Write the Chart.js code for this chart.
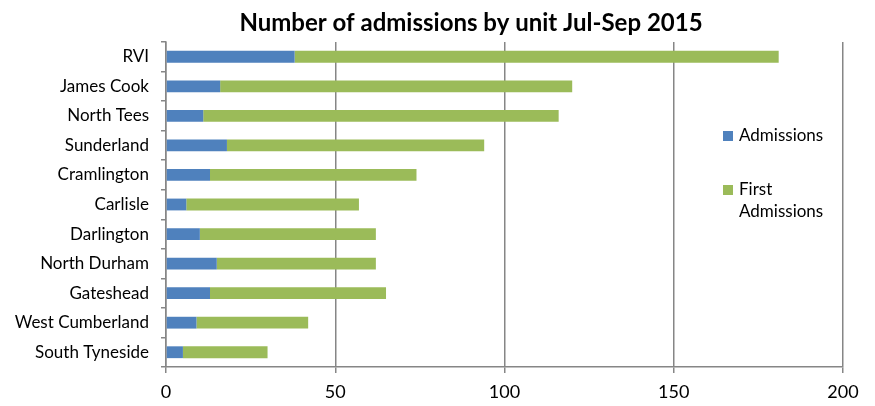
<!DOCTYPE html>
<html>
<head>
<meta charset="utf-8">
<script src="https://cdn.jsdelivr.net/npm/chart.js@4"></script>
<style>
  html, body { margin: 0; padding: 0; background: #fff; }
  #wrap { width: 875px; height: 406px; position: relative; }
</style>
</head>
<body>
<div id="wrap"><canvas id="chart"></canvas></div>
<script>
// Data
const units = ["RVI", "James Cook", "North Tees", "Sunderland", "Cramlington", "Carlisle",
  "Darlington", "North Durham", "Gateshead", "West Cumberland", "South Tyneside"];
const admissions = [38, 16, 11, 18, 13, 6, 10, 15, 13, 9, 5];
const firstAdmissions = [143, 104, 105, 76, 61, 51, 52, 47, 52, 33, 25];
const seriesNames = ["Admissions", ["First", "Admissions"]];
const seriesColors = ["#4F81BD", "#9BBB59"];
const xTicks = [0, 50, 100, 150, 200];
const chartTitle = "Number of admissions by unit Jul-Sep 2015";

const FONT = "Lato, 'Open Sans', sans-serif";

// Title and legend drawn on the canvas (title sits off-centre, second legend label wraps)
const decorations = {
  id: "decorations",
  afterDraw(chart) {
    const ctx = chart.ctx;
    ctx.save();
    ctx.fillStyle = "#000";
    ctx.font = "bold 24px " + FONT;
    ctx.textAlign = "center";
    ctx.textBaseline = "middle";
    ctx.fillText(chartTitle, 471, 23);

    ctx.font = "17px " + FONT;
    ctx.textAlign = "left";
    const rows = [[136], [190, 212]];
    seriesNames.forEach((name, i) => {
      const lines = Array.isArray(name) ? name : [name];
      ctx.fillStyle = seriesColors[i];
      ctx.fillRect(723, rows[i][0] - 5, 10, 10);
      ctx.fillStyle = "#000";
      lines.forEach((ln, j) => ctx.fillText(ln, 739, rows[i][j]));
    });
    ctx.restore();
  }
};

new Chart(document.getElementById("chart"), {
  type: "bar",
  data: {
    labels: units,
    datasets: [
      { label: "Admissions", data: admissions, backgroundColor: seriesColors[0] },
      { label: "First Admissions", data: firstAdmissions, backgroundColor: seriesColors[1] }
    ]
  },
  options: {
    indexAxis: "y",
    responsive: true,
    maintainAspectRatio: false,
    animation: false,
    categoryPercentage: 0.4,
    barPercentage: 1.0,
    layout: { padding: { left: 0, right: 32, top: 42, bottom: 0 } },
    plugins: {
      legend: { display: false },
      tooltip: { enabled: false },
      title: { display: false }
    },
    scales: {
      x: {
        stacked: true,
        min: 0,
        max: 200,
        afterBuildTicks: s => { s.ticks = xTicks.map(v => ({ value: v })); },
        afterFit: s => { s.height = 39; },
        border: { display: true, color: "#868686", width: 1.5 },
        grid: { color: "#868686", lineWidth: 1.5, drawTicks: true, tickLength: 6 },
        ticks: { color: "#000", padding: 8, font: { family: FONT, size: 18 } }
      },
      y: {
        stacked: true,
        afterFit: s => { s.width = 166; },
        border: { display: true, color: "#868686", width: 1.5 },
        grid: { offset: true, drawOnChartArea: false, drawTicks: true, tickLength: 5, color: "#868686", lineWidth: 1.5 },
        ticks: { color: "#000", padding: 12, font: { family: FONT, size: 17 } }
      }
    }
  },
  plugins: [decorations]
});
</script>
</body>
</html>
